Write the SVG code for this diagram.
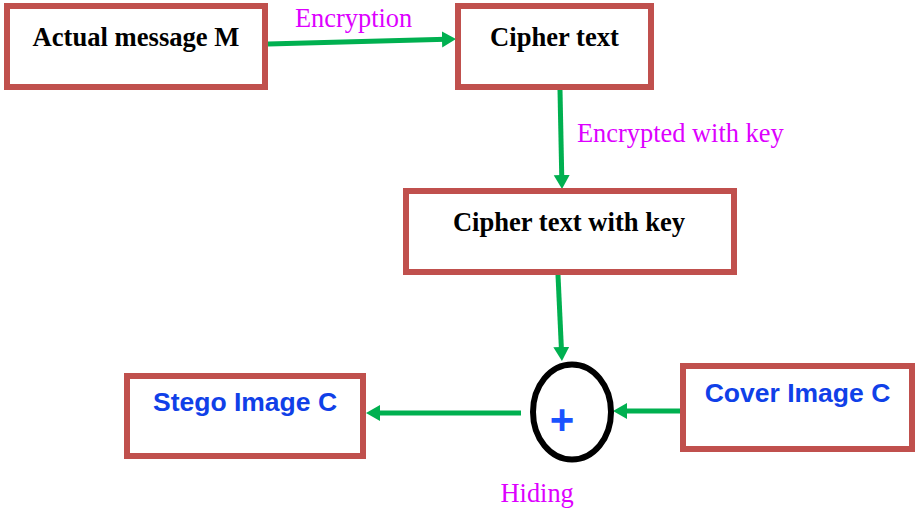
<svg xmlns="http://www.w3.org/2000/svg" width="916" height="508" viewBox="0 0 916 508">
  <style>
    .box { fill: #ffffff; stroke: #c0504d; stroke-width: 6; }
    .serif { font-family: "Liberation Serif", "Times New Roman", serif; font-weight: bold; font-size: 26.6px; fill: #000000; text-anchor: middle; }
    .sans { font-family: "Liberation Sans", Arial, sans-serif; font-weight: bold; font-size: 26.5px; fill: #1040e8; text-anchor: middle; }
    .label { font-family: "Liberation Serif", "Times New Roman", serif; font-size: 26.4px; fill: #dd00ff; }
    .conn { stroke: #00b050; stroke-width: 5; fill: none; marker-end: url(#arrow); }
  </style>
  <defs>
    <marker id="arrow" markerUnits="userSpaceOnUse" markerWidth="16" markerHeight="18" refX="4" refY="8" orient="auto">
      <path d="M0,0 L14,8 L0,16 z" fill="#00b050"/>
    </marker>
  </defs>
  <rect width="916" height="508" fill="#ffffff"/>

  <g id="connectors">
    <line class="conn" x1="268" y1="44" x2="446" y2="39.3"/>
    <line class="conn" x1="560" y1="90" x2="561.8" y2="179"/>
    <line class="conn" x1="558" y1="275" x2="561.5" y2="351"/>
    <line class="conn" x1="521" y1="413" x2="376" y2="413"/>
    <line class="conn" x1="680" y1="411" x2="623" y2="411"/>
  </g>

  <g id="node-actual-message">
    <rect class="box" x="7" y="6" width="258" height="81"/>
    <text class="serif" x="136" y="45.5">Actual message M</text>
  </g>
  <g id="node-cipher-text">
    <rect class="box" x="458" y="6" width="193" height="81"/>
    <text class="serif" x="554.5" y="45.5">Cipher text</text>
  </g>
  <g id="node-cipher-key">
    <rect class="box" x="406" y="191" width="328" height="81"/>
    <text class="serif" x="569" y="230.5">Cipher text with key</text>
  </g>
  <g id="node-stego">
    <rect class="box" x="127" y="376" width="236" height="80"/>
    <text class="sans" x="245" y="411">Stego Image C</text>
  </g>
  <g id="node-cover">
    <rect class="box" x="683" y="366" width="229" height="83"/>
    <text class="sans" x="797.5" y="401.5">Cover Image C</text>
  </g>
  <g id="node-hiding">
    <ellipse cx="572" cy="412" rx="39" ry="47.5" fill="#ffffff" stroke="#000000" stroke-width="6"/>
    <text x="562" y="433.5" font-family="'Liberation Sans', Arial, sans-serif" font-weight="bold" font-size="42" fill="#1a53ff" text-anchor="middle">+</text>
  </g>

  <g id="labels">
    <text class="label" x="295" y="27">Encryption</text>
    <text class="label" x="577" y="141.5">Encrypted with key</text>
    <text class="label" x="500.5" y="501.5" font-size="25">Hiding</text>
  </g>
</svg>
